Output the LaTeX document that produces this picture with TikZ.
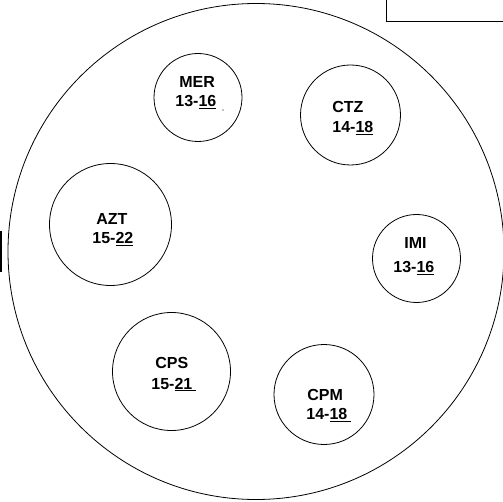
\documentclass[tikz,border=0pt]{standalone}
\usepackage{fontspec}
\setmainfont{Liberation Sans}
\begin{document}
\begin{tikzpicture}[x=1pt,y=-1pt,line width=0.8pt,
		disc/.style={draw,circle,inner sep=0pt},
		txt/.style={anchor=base west,inner sep=0pt,font=\fontsize{16}{19}\selectfont\bfseries}]
			\useasboundingbox (0,0) rectangle (503,502);
			\node[disc,minimum size=496pt] (plate) at (256,251.5) {};
			%
			\def\list {mer/198/97.5/88, ctz/350.5/115/100, azt/110.5/224.5/122, imi/416.5/258.5/88, cps/171.5/371.5/118, cpm/324/394.5/100}  % discs
			\foreach \n/\x/\y/\d in \list
			{	\node[disc,minimum size=\d pt] (\n) at (\x,\y) {};
			}
			\def\labels {mer/179/88/MER/175/107/{13-\underline{16}},
				ctz/332/112.5/CTZ/332/133/{14-\underline{18}},
				azt/96/224.5/AZT/92/244/{15-\underline{22}},
				imi/404/248.5/IMI/393/273/{13-\underline{16}},
				cps/155/368.5/CPS/151/389/{15-\underline{21\hspace{4pt}}},
				cpm/307/400.5/CPM/306/419.5/{14-\underline{18\hspace{4pt}}}}  % names and ranges
			\foreach \n/\xa/\ya/\name/\xb/\yb/\range in \labels
			{	\node[txt] (\n-name) at (\xa,\ya) {\name};
				\node[txt] (\n-range) at (\xb,\yb) {\range};
			}
			%
			\fill (223,110) circle (0.6pt);
			\draw (386,-5) rectangle (510,21);
			\draw[line width=1.4pt] (0.8,231) -- (0.8,272);
		\end{tikzpicture}
\end{document}
